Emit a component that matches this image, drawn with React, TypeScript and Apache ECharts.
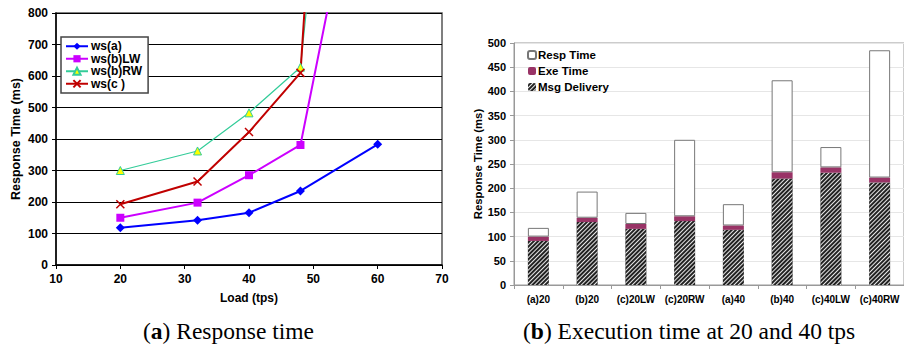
import React, { useEffect, useRef } from "react";
import * as echarts from "echarts";

// ---- Chart (a): response time vs load ----
const loadTicks = [10, 20, 30, 40, 50, 60, 70];
const wsA: [number, number][] = [[20, 118], [32, 142], [40, 166], [48, 235], [60, 383]];
const wsBLW: [number, number][] = [[20, 150], [32, 198], [40, 285], [48, 381], [60, 1605]];
const wsBRW: [number, number][] = [[20, 300], [32, 362], [40, 483], [48, 628], [60, 3000]];
const wsC: [number, number][] = [[20, 193], [32, 265], [40, 422], [48, 610], [60, 4400]];

// ---- Chart (b): execution time at 20 and 40 tps ----
const categories = ["(a)20", "(b)20", "(c)20LW", "(c)20RW", "(a)40", "(b)40", "(c)40LW", "(c)40RW"];
const msgDelivery = [91, 130, 116, 132, 114, 220, 232, 212];
const exeTime = [9, 9, 10, 10, 9, 13, 11, 10];
const respTime = [18, 54, 23, 158, 44, 190, 42, 263];

const SANS = 'Arial, "Liberation Sans", Helvetica, sans-serif';
const SERIF = '"Times New Roman", "Liberation Serif", serif';

export default function App() {
  const ref = useRef<HTMLDivElement>(null);
  useEffect(() => {
    if (!ref.current) return;
    const chart = echarts.init(ref.current, null, { renderer: "svg" });
    const boldLabel = { color: "#000", fontFamily: SANS, fontWeight: "bold" as const, fontSize: 11 };
    chart.setOption({
      animation: false,
      backgroundColor: "#fff",
      grid: [
        { left: 56, right: 462, top: 13, bottom: 85, show: true, borderColor: "#555", borderWidth: 1.5, backgroundColor: "transparent" },
        { left: 514, width: 396, top: 43, bottom: 65, show: true, borderColor: "#999", borderWidth: 1, backgroundColor: "transparent" },
      ],
      xAxis: [
        {
          type: "value", gridIndex: 0, min: loadTicks[0], max: loadTicks[loadTicks.length - 1], interval: 10,
          axisLine: { show: true, onZero: false, lineStyle: { color: "#000", width: 1.5 } },
          axisTick: { show: true, length: 4, lineStyle: { color: "#000" } },
          splitLine: { show: false },
          axisLabel: { ...boldLabel, fontSize: 12, margin: 8 },
          name: "Load (tps)", nameLocation: "middle", nameGap: 27,
          nameTextStyle: { ...boldLabel, fontSize: 12 },
        },
        {
          type: "category", gridIndex: 1, data: categories,
          axisLine: { show: true, lineStyle: { color: "#999" } },
          axisTick: { show: true, length: 4, lineStyle: { color: "#999" } },
          axisLabel: { ...boldLabel, fontSize: 10, margin: 9, interval: 0 },
        },
      ],
      yAxis: [
        {
          type: "value", gridIndex: 0, min: 0, max: 800, interval: 100,
          axisLine: { show: true, lineStyle: { color: "#000", width: 1.5 } },
          axisTick: { show: true, length: 4, lineStyle: { color: "#000" } },
          splitLine: { show: true, lineStyle: { color: "#000", width: 1 } },
          axisLabel: { ...boldLabel, fontSize: 12, margin: 8 },
          name: "Response Time (ms)", nameLocation: "middle", nameGap: 34,
          nameTextStyle: { ...boldLabel, fontSize: 12.5 },
        },
        {
          type: "value", gridIndex: 1, min: 0, max: 500, interval: 50,
          axisLine: { show: true, lineStyle: { color: "#999" } },
          axisTick: { show: true, length: 4, lineStyle: { color: "#999" } },
          splitLine: { show: true, lineStyle: { color: "#e6e6e6", width: 1 } },
          axisLabel: { ...boldLabel, fontSize: 11, margin: 8 },
          name: "Response Time (ms)", nameLocation: "middle", nameGap: 30,
          nameTextStyle: { ...boldLabel, fontSize: 11.3 },
        },
      ],
      legend: [
        {
          data: ["ws(a)", "ws(b)LW", "ws(b)RW", "ws(c )"],
          orient: "vertical", left: 61, top: 37,
          backgroundColor: "#fff", borderColor: "#444", borderWidth: 1.5, borderRadius: 0,
          padding: [3, 6, 3, 4], itemGap: 0, itemWidth: 22, itemHeight: 9,
          textStyle: { ...boldLabel, fontSize: 12, lineHeight: 12.5, padding: [0, 0, 0, -2] },
        },
        {
          data: ["Resp Time", "Exe Time", "Msg Delivery"],
          orient: "vertical", left: 527, top: 49,
          padding: 0, itemGap: 4, itemWidth: 8, itemHeight: 8,
          textStyle: { ...boldLabel, fontSize: 11.5, lineHeight: 12, padding: [0, 0, 0, -3] },
        },
      ],
      series: [
        {
          name: "ws(a)", type: "line", xAxisIndex: 0, yAxisIndex: 0, data: wsA,
          symbol: "diamond", symbolSize: 9,
          lineStyle: { color: "#0000FF", width: 2 }, itemStyle: { color: "#0000FF" },
        },
        {
          name: "ws(b)LW", type: "line", xAxisIndex: 0, yAxisIndex: 0, data: wsBLW,
          symbol: "rect", symbolSize: 8,
          lineStyle: { color: "#CC00FF", width: 2 }, itemStyle: { color: "#CC00FF" },
        },
        {
          name: "ws(b)RW", type: "line", xAxisIndex: 0, yAxisIndex: 0, data: wsBRW,
          symbol: "triangle", symbolSize: 8,
          lineStyle: { color: "#33CC99", width: 1.2 },
          itemStyle: { color: "#FFFF00", borderColor: "#33CC99", borderWidth: 1 },
        },
        {
          name: "ws(c )", type: "line", xAxisIndex: 0, yAxisIndex: 0, data: wsC,
          symbol: "path://M0,0L10,10M0,10L10,0", symbolSize: 8,
          lineStyle: { color: "#C00000", width: 2 },
          itemStyle: { color: "transparent", borderColor: "#C00000", borderWidth: 1.5 },
        },
        {
          name: "Msg Delivery", type: "bar", xAxisIndex: 1, yAxisIndex: 1, stack: "t", data: msgDelivery,
          barWidth: 21,
          itemStyle: {
            color: "#222",
            decal: {
              symbol: "rect", symbolSize: 1, color: "#e8e8e8",
              dashArrayX: [1, 0], dashArrayY: [1, 1.6], rotation: -Math.PI / 4,
            },
          },
        },
        {
          name: "Exe Time", type: "bar", xAxisIndex: 1, yAxisIndex: 1, stack: "t", data: exeTime,
          barWidth: 21,
          itemStyle: { color: "#993366" },
        },
        {
          name: "Resp Time", type: "bar", xAxisIndex: 1, yAxisIndex: 1, stack: "t", data: respTime,
          barWidth: 21,
          itemStyle: { color: "#fff", borderColor: "#777", borderWidth: 1 },
        },
      ],
      graphic: [
        {
          type: "text", left: 143, top: 319,
          style: {
            text: "({b|a}) Response time",
            font: `23.5px ${SERIF}`, fill: "#000",
            rich: { b: { fontWeight: "bold", fontSize: 23.5, fontFamily: SERIF } },
          },
        },
        {
          type: "text", left: 523, top: 319,
          style: {
            text: "({b|b}) Execution time at 20 and 40 tps",
            font: `23.5px ${SERIF}`, fill: "#000",
            rich: { b: { fontWeight: "bold", fontSize: 23.5, fontFamily: SERIF } },
          },
        },
      ],
    });
    return () => chart.dispose();
  }, []);
  return (
    <div
      ref={ref}
      style={{ position: "fixed", left: 0, top: 0, width: 904, height: 350, background: "#fff" }}
    />
  );
}
